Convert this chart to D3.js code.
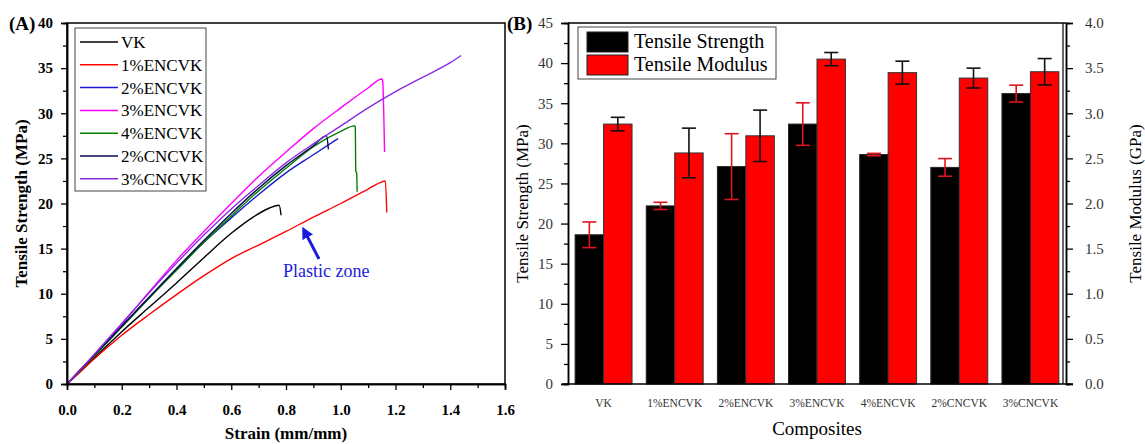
<!DOCTYPE html>
<html><head><meta charset="utf-8">
<script src="https://cdn.jsdelivr.net/npm/d3@7"></script>
<style>
body{margin:0;background:#fff;}
svg{display:block;font-family:"Liberation Serif","Times New Roman",serif;}
</style></head>
<body><svg id="c" width="1145" height="444"></svg>
<script>
// ---------- Panel A data: stress-strain curves [strain, stress] ----------
const vkCurve = [[0,0],[0.05,1.45],[0.1,2.9],[0.2,5.8],[0.3,8.5],[0.4,11.2],[0.5,14.0],[0.6,16.7],[0.68,18.5],[0.74,19.5],[0.775,19.8],[0.782,18.7]];
const en1Curve = [[0,0],[0.05,1.4],[0.1,2.8],[0.2,5.4],[0.3,7.7],[0.4,9.9],[0.5,12.0],[0.6,13.9],[0.7,15.4],[0.8,16.9],[0.9,18.5],[1.0,20.0],[1.1,21.6],[1.15,22.4],[1.163,22.5],[1.168,19.0]];
const en2Curve = [[0,0],[0.05,1.6],[0.1,3.2],[0.2,6.4],[0.3,9.6],[0.4,12.7],[0.5,15.7],[0.6,18.4],[0.7,21.0],[0.8,23.4],[0.9,25.4],[0.99,27.2]];
const en3Curve = [[0,0],[0.05,1.6],[0.1,3.2],[0.2,6.6],[0.3,10.2],[0.4,13.7],[0.5,16.9],[0.6,20.0],[0.7,23.0],[0.8,25.7],[0.9,28.3],[1.0,30.6],[1.1,32.8],[1.15,33.8],[1.153,33.6],[1.16,25.7]];
const en4Curve = [[0,0],[0.05,1.55],[0.1,3.1],[0.2,6.3],[0.3,9.5],[0.4,12.6],[0.5,15.7],[0.6,18.6],[0.7,21.4],[0.8,23.9],[0.9,26.3],[1.0,28.0],[1.05,28.6],[1.053,28.5],[1.055,23.6],[1.058,23.4],[1.06,21.3]];
const cn2Curve = [[0,0],[0.05,1.6],[0.1,3.2],[0.2,6.4],[0.3,9.6],[0.4,12.8],[0.5,15.9],[0.6,18.9],[0.7,21.7],[0.8,24.2],[0.9,26.4],[0.948,27.5],[0.955,26.0]];
const cn3Curve = [[0,0],[0.05,1.65],[0.1,3.3],[0.2,6.7],[0.3,10.1],[0.4,13.4],[0.5,16.5],[0.6,19.4],[0.7,22.0],[0.8,24.5],[0.9,26.6],[1.0,28.6],[1.1,30.6],[1.2,32.4],[1.3,34.0],[1.4,35.6],[1.44,36.4]];
const curveNames = ["VK","1%ENCVK","2%ENCVK","3%ENCVK","4%ENCVK","2%CNCVK","3%CNCVK"];
const curveColors = ["#000000","#ff0000","#1a1acc","#ff00ff","#008000","#0a0a50","#8a2be2"];
const curves = [vkCurve,en1Curve,en2Curve,en3Curve,en4Curve,cn2Curve,cn3Curve];
const strainTicks = [0,0.2,0.4,0.6,0.8,1.0,1.2,1.4,1.6];
const stressTicks = [0,5,10,15,20,25,30,35,40];

// ---------- Panel B data ----------
const categories = ["VK","1%ENCVK","2%ENCVK","3%ENCVK","4%ENCVK","2%CNCVK","3%CNCVK"];
const strength = [18.6,22.2,27.1,32.4,28.6,27.0,36.2];
const strengthErr = [1.6,0.45,4.1,2.65,0.15,1.1,1.05];
const modulus = [2.88,2.56,2.75,3.60,3.45,3.39,3.46];
const modulusErr = [0.075,0.275,0.285,0.073,0.127,0.11,0.146];
const strengthTicks = [0,5,10,15,20,25,30,35,40,45];
const modulusTicks = [0,0.5,1.0,1.5,2.0,2.5,3.0,3.5,4.0];

const svg = d3.select("#c");

// ================= Panel A =================
const A = {l:67, r:505, t:23, b:384};
const xA = d3.scaleLinear().domain([0,1.6]).range([A.l,A.r]);
const yA = d3.scaleLinear().domain([0,40]).range([A.b,A.t]);
const gA = svg.append("g");

gA.append("rect").attr("x",A.l).attr("y",A.t).attr("width",A.r-A.l).attr("height",A.b-A.t)
  .attr("fill","none").attr("stroke","#000").attr("stroke-width",1.5);

const lineA = d3.line().x(d=>xA(d[0])).y(d=>yA(d[1])).curve(d3.curveMonotoneX);
curves.forEach((c,i)=>{
  gA.append("path").datum(c).attr("d",lineA).attr("fill","none")
    .attr("stroke",curveColors[i]).attr("stroke-width",1.4);
});

const axA_L = gA.append("g").attr("transform",`translate(${A.l},0)`)
  .call(d3.axisLeft(yA).tickValues(stressTicks).tickSize(6).tickPadding(8).tickFormat(d3.format("d")));
const axA_Lm = gA.append("g").attr("transform",`translate(${A.l},0)`)
  .call(d3.axisLeft(yA).tickValues(d3.range(2.5,40,5)).tickSize(4).tickFormat(""));
const axA_B = gA.append("g").attr("transform",`translate(0,${A.b})`)
  .call(d3.axisBottom(xA).tickValues(strainTicks).tickSize(6).tickPadding(14).tickFormat(d3.format(".1f")));
const axA_Bm = gA.append("g").attr("transform",`translate(0,${A.b})`)
  .call(d3.axisBottom(xA).tickValues(d3.range(0.1,1.6,0.2)).tickSize(4).tickFormat(""));
[axA_L,axA_Lm,axA_B,axA_Bm].forEach(a=>{
  a.select(".domain").attr("stroke","#000").attr("stroke-width",1.5);
  a.selectAll(".tick line").attr("stroke","#000").attr("stroke-width",1.3);
  a.selectAll("text").attr("font-family","Liberation Serif").attr("font-size",15)
    .attr("font-weight","bold").attr("fill","#000");
});

gA.append("text").attr("x",9).attr("y",30).attr("font-size",19).attr("font-weight","bold").text("(A)");
gA.append("text").attr("transform",`translate(27,${(A.t+A.b)/2}) rotate(-90)`)
  .attr("text-anchor","middle").attr("font-size",17).attr("font-weight","bold").text("Tensile Strength (MPa)");
gA.append("text").attr("x",(A.l+A.r)/2).attr("y",439).attr("text-anchor","middle")
  .attr("font-size",17).attr("font-weight","bold").text("Strain (mm/mm)");

const legA = gA.append("g");
legA.append("rect").attr("x",75).attr("y",28).attr("width",131).attr("height",163)
  .attr("fill","#fff").attr("stroke","#444").attr("stroke-width",1);
curveNames.forEach((n,i)=>{
  const y = 42 + i*22.8;
  legA.append("line").attr("x1",80).attr("x2",118).attr("y1",y).attr("y2",y)
    .attr("stroke",curveColors[i]).attr("stroke-width",1.5);
  legA.append("text").attr("x",121).attr("y",y+6).attr("font-size",17).text(n);
});

const blue = "#1c1cdc";
svg.append("defs").append("marker").attr("id","ah").attr("viewBox","0 0 10 10")
  .attr("refX",5).attr("refY",5).attr("markerWidth",4).attr("markerHeight",4).attr("orient","auto")
  .append("path").attr("d","M0,0 L10,5 L0,10 z").attr("fill",blue);
gA.append("line").attr("x1",319).attr("y1",259).attr("x2",305).attr("y2",232)
  .attr("stroke",blue).attr("stroke-width",3).attr("marker-end","url(#ah)");
gA.append("text").attr("x",283).attr("y",277).attr("font-size",18).attr("fill",blue).text("Plastic zone");

// ================= Panel B =================
const B = {l:568, r:1066, t:23, b:384};
const xB = d3.scaleBand().domain(categories).range([B.l,B.r]).paddingInner(0.2).paddingOuter(0.1);
const yS = d3.scaleLinear().domain([0,45]).range([B.b,B.t]);
const yM = d3.scaleLinear().domain([0,4]).range([B.b,B.t]);
const gB = svg.append("g");
const bw = xB.bandwidth()/2;

gB.append("line").attr("x1",B.l).attr("x2",B.r).attr("y1",B.t).attr("y2",B.t).attr("stroke","#000").attr("stroke-width",1.5);
gB.append("line").attr("x1",B.r-3).attr("x2",B.r-3).attr("y1",B.t).attr("y2",B.b).attr("stroke","#000").attr("stroke-width",1.2);

gB.selectAll(".bs").data(categories).enter().append("rect")
  .attr("x",d=>xB(d)).attr("y",(d,i)=>yS(strength[i])).attr("width",bw)
  .attr("height",(d,i)=>B.b-yS(strength[i])).attr("fill","#000").attr("stroke","#222").attr("stroke-width",1);
gB.selectAll(".bm").data(categories).enter().append("rect")
  .attr("x",d=>xB(d)+bw).attr("y",(d,i)=>yM(modulus[i])).attr("width",bw)
  .attr("height",(d,i)=>B.b-yM(modulus[i])).attr("fill","#ff0000").attr("stroke","#333").attr("stroke-width",1);

function errBar(cx, yTop, yBot, color){
  const g = gB.append("g").attr("stroke",color).attr("stroke-width",1.6);
  g.append("line").attr("x1",cx).attr("x2",cx).attr("y1",yTop).attr("y2",yBot);
  g.append("line").attr("x1",cx-7).attr("x2",cx+7).attr("y1",yTop).attr("y2",yTop);
  g.append("line").attr("x1",cx-7).attr("x2",cx+7).attr("y1",yBot).attr("y2",yBot);
}
categories.forEach((c,i)=>{
  errBar(xB(c)+bw/2, yS(strength[i]+strengthErr[i]), yS(strength[i]-strengthErr[i]), "#e0141e");
  errBar(xB(c)+bw*1.5, yM(modulus[i]+modulusErr[i]), yM(modulus[i]-modulusErr[i]), "#111");
});

const axB_L = gB.append("g").attr("transform",`translate(${B.l},0)`)
  .call(d3.axisLeft(yS).tickValues(strengthTicks).tickSize(7).tickPadding(8).tickFormat(d3.format("d")));
const axB_Lm = gB.append("g").attr("transform",`translate(${B.l},0)`)
  .call(d3.axisLeft(yS).tickValues(d3.range(2.5,45,5)).tickSize(4).tickFormat(""));
const axB_R = gB.append("g").attr("transform",`translate(${B.r},0)`)
  .call(d3.axisRight(yM).tickValues(modulusTicks).tickSize(7).tickPadding(12).tickFormat(d3.format(".1f")));
const axB_Rm = gB.append("g").attr("transform",`translate(${B.r},0)`)
  .call(d3.axisRight(yM).tickValues(d3.range(0.25,4,0.5)).tickSize(4).tickFormat(""));
const axB_B = gB.append("g").attr("transform",`translate(0,${B.b})`)
  .call(d3.axisBottom(xB).tickSize(0).tickPadding(15));
axB_B.select(".domain").attr("d",`M${B.l-6},0H${B.r+7}`);
[axB_L,axB_Lm,axB_R,axB_Rm,axB_B].forEach(a=>{
  a.select(".domain").attr("stroke","#000").attr("stroke-width",1.5);
  a.selectAll(".tick line").attr("stroke","#000").attr("stroke-width",1.3);
  a.selectAll("text").attr("font-family","Liberation Serif").attr("font-size",15).attr("fill","#333");
});
axB_B.selectAll("text").attr("font-size",11.5);

gB.append("text").attr("x",507).attr("y",30).attr("font-size",19).attr("font-weight","bold").text("(B)");
gB.append("text").attr("transform",`translate(528,${(B.t+B.b)/2}) rotate(-90)`)
  .attr("text-anchor","middle").attr("font-size",17).text("Tensile Strength (MPa)");
gB.append("text").attr("transform",`translate(1141,${(B.t+B.b)/2}) rotate(-90)`)
  .attr("text-anchor","middle").attr("font-size",17).text("Tensile Modulus (GPa)");
gB.append("text").attr("x",(B.l+B.r)/2).attr("y",435).attr("text-anchor","middle")
  .attr("font-size",19).text("Composites");

const legB = gB.append("g");
legB.append("rect").attr("x",578).attr("y",27).attr("width",198).attr("height",52)
  .attr("fill","#fff").attr("stroke","#444").attr("stroke-width",1);
[["Tensile Strength","#000"],["Tensile Modulus","#ff0000"]].forEach((d,i)=>{
  const y = 32 + i*23;
  legB.append("rect").attr("x",587).attr("y",y).attr("width",41).attr("height",20)
    .attr("fill",d[1]).attr("stroke","#222").attr("stroke-width",1);
  legB.append("text").attr("x",634).attr("y",y+16).attr("font-size",20).text(d[0]);
});
</script></body></html>
